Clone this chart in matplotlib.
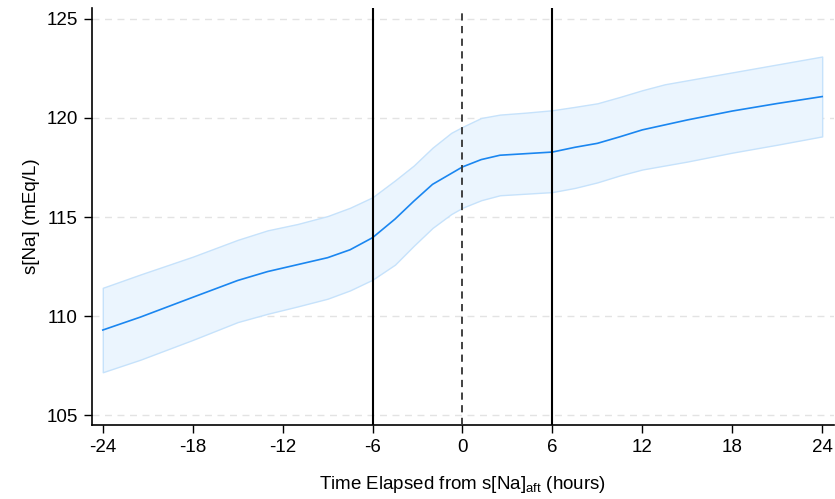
import matplotlib
matplotlib.use('Agg')
import matplotlib.pyplot as plt

# time from s[Na]_aft (hours) and fitted serum sodium with confidence band
hours = [-24, -21.5, -18, -15, -13, -11, -9, -7.5, -6, -4.5, -3.25, -2, -0.75, 0,
         1.25, 2.5, 4.25, 6, 7.5, 9, 10.5, 12, 13.5, 15, 18, 21, 24]
na_mean = [109.3, 109.95, 110.95, 111.8, 112.25, 112.6, 112.95, 113.35, 113.96, 114.9, 115.8, 116.65, 117.2, 117.53,
           117.9, 118.12, 118.2, 118.28, 118.52, 118.72, 119.05, 119.4, 119.65, 119.9, 120.35, 120.73, 121.08]
na_upper = [111.43, 112.1, 113.0, 113.85, 114.33, 114.65, 115.05, 115.47, 116.0, 116.85, 117.6, 118.5, 119.25, 119.55,
            120.0, 120.17, 120.27, 120.39, 120.56, 120.74, 121.06, 121.4, 121.7, 121.9, 122.3, 122.7, 123.1]
na_lower = [107.17, 107.8, 108.8, 109.7, 110.12, 110.49, 110.88, 111.3, 111.84, 112.6, 113.55, 114.45, 115.15, 115.47,
            115.85, 116.1, 116.18, 116.26, 116.47, 116.75, 117.1, 117.4, 117.6, 117.8, 118.25, 118.65, 119.07]

x_ticks = [-24, -18, -12, -6, 0, 6, 12, 18, 24]
y_ticks = [105, 110, 115, 120, 125]
solid_marks = [-6, 6]
dashed_marks = [0]

plt.rcParams['font.family'] = ['Liberation Sans', 'DejaVu Sans']
plt.rcParams['mathtext.fontset'] = 'custom'
plt.rcParams['mathtext.rm'] = 'Liberation Sans'
plt.rcParams['mathtext.it'] = 'Liberation Sans:italic'

fig = plt.figure(figsize=(8.35, 4.99), dpi=100)
ax = fig.add_axes([0.110, 0.148, 0.889, 0.836])

ax.fill_between(hours, na_lower, na_upper, facecolor='#ebf5fe',
                edgecolor='#c6e2fb', linewidth=1.0, zorder=1)
ax.plot(hours, na_mean, color='#1a86f0', linewidth=1.2, zorder=3)

for xv in solid_marks:
    ax.axvline(xv, color='black', linewidth=1.5, zorder=4)
for xv in dashed_marks:
    ax.axvline(xv, color='#333333', linewidth=1.3, linestyle=(0, (4, 3)), zorder=4)

for yv in y_ticks:
    ax.axhline(yv, color='#e3e3e3', linewidth=1.0, linestyle=(0, (5, 4)), zorder=0)

ax.set_xlim(-24.73, 24.8)
ax.set_ylim(104.5, 125.55)
ax.set_xticks(x_ticks)
ax.set_xticklabels([str(v) for v in x_ticks])
ax.set_yticks(y_ticks)

ax.spines['top'].set_visible(False)
ax.spines['right'].set_visible(False)
ax.spines['left'].set_linewidth(1.2)
ax.spines['bottom'].set_linewidth(1.2)
ax.tick_params(axis='both', direction='out', length=6, width=1.0, labelsize=13.5, pad=4)

ax.set_xlabel(r'Time Elapsed from s[Na]$_{\mathrm{aft}}$ (hours)', fontsize=13.5, labelpad=13)
ax.set_ylabel('s[Na] (mEq/L)', fontsize=13.5, labelpad=5)

plt.savefig('out.png', dpi=100, facecolor='white')
plt.close()
